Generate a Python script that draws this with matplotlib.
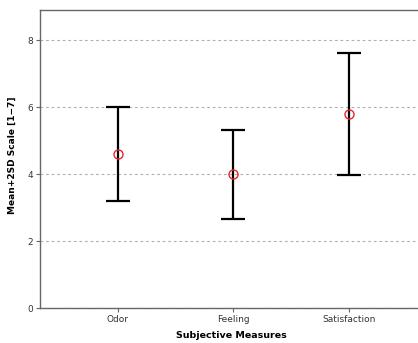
import matplotlib.pyplot as plt

# datos
medidas = ['Odor', 'Feeling', 'Satisfaction']
medias = [4.6, 4.0, 5.8]
dos_sd = [1.4, 1.33, 1.83]

fig = plt.figure(figsize=(4.18, 3.43), dpi=100)
ax = fig.add_axes([40/418, 35/343, 382/418, 298/343])

x = list(range(len(medidas)))
ax.errorbar(x, medias, yerr=dos_sd, fmt='none', ecolor='black',
            elinewidth=1.6, capsize=8.5, capthick=1.6, zorder=3)
ax.plot(x, medias, 'o', markersize=6.5, markerfacecolor='none',
        markeredgecolor='#e8262a', markeredgewidth=1.0, zorder=4)

ax.set_xlim(-0.67, 2.63)
ax.set_ylim(0, 8.9)
ax.set_yticks([0, 2, 4, 6, 8])
ax.set_xticks(x)
ax.set_xticklabels(medidas)

ax.yaxis.grid(True, linestyle=(0, (2.5, 2.5)), color='#b0b0b0', linewidth=0.8)
ax.set_axisbelow(True)

for s in ['left', 'bottom', 'top']:
    ax.spines[s].set_color('#666666')
    ax.spines[s].set_linewidth(1.0)
ax.spines['right'].set_visible(False)

ax.tick_params(axis='both', labelsize=6.5, colors='#333333', length=3,
               width=0.8, pad=2)
ax.tick_params(axis='both', color='#666666')

ax.set_xlabel('Subjective Measures', fontsize=6.8, fontweight='bold', labelpad=5)
ax.set_ylabel('Mean+2SD Scale [1\u22127]', fontsize=6.5, fontweight='bold')
ax.yaxis.set_label_coords(-0.06, 0.513)

fig.savefig('out.png', dpi=100)
